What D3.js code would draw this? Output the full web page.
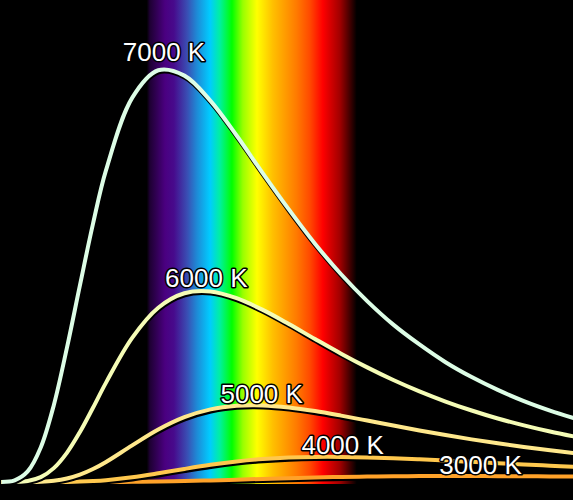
<!DOCTYPE html>
<html><head><meta charset="utf-8">
<script src="https://cdn.jsdelivr.net/npm/d3@7"></script>
<style>html,body{margin:0;padding:0;background:#000;overflow:hidden}</style>
</head><body>
<svg id="chart" width="573" height="500"></svg>
<script>
// wavelength samples (nm)
const wavelengths = [100,125,150,175,200,225,250,275,300,350,400,450,500,550,600,650,700,750,800,850,900,950,1000,1050,1100,1150,1200];
// relative spectral radiance (% of 7000 K peak)
const t7000 = [0.02,0.41,2.56,8.36,18.6,32.4,47.6,62.5,75.5,93.0,99.7,98.4,92.3,83.9,74.8,66.0,57.7,50.3,43.8,38.1,33.3,29.0,25.4,22.3,19.6,17.3,15.3];
const t6000 = [0,0.03,0.26,1.18,3.36,7.06,12.1,17.97,24.07,34.9,42.2,45.7,46.15,44.5,41.67,38.25,34.62,31.07,27.75,24.69,21.94,19.49,17.31,15.38,13.70,12.21,10.91];
const t5000 = [0,0,0.01,0.08,0.31,0.84,1.78,3.14,4.86,8.86,12.7,15.69,17.59,18.46,18.55,18.04,17.17,16.07,14.88,13.67,12.49,11.37,10.32,9.36,8.48,7.68,6.96];
const t4000 = [0,0,0,0,0.01,0.03,0.10,0.23,0.44,1.13,2.10,3.17,4.16,4.97,5.56,5.92,6.08,6.08,5.96,5.75,5.49,5.19,4.88,4.56,4.25,3.94,3.65];
const t3000 = [0,0,0,0,0,0,0,0,0.01,0.04,0.11,0.22,0.38,0.56,0.75,0.93,1.09,1.22,1.32,1.39,1.43,1.45,1.44,1.42,1.39,1.35,1.30];
const seriesNames = ["3000 K","4000 K","5000 K","6000 K","7000 K"];
const seriesColors = ["#ffa229","#ffc84e","#ffe88c","#f5fcb6","#ddfde6"];
// label anchor points in data units (wavelength, value)
const labelWl  = [1017, 753, 598, 492, 411];
const labelVal = [1.9, 6.8, 19.2, 47.2, 102];
// visible spectrum gradient stops (nm, colour)
const specWl = [378,384,413,430,455,474,499,518,541,562,589,619,665,690,715,748,780];
const specColors = ["#000000","#1e0033","#4a0080","#470a8c","#3a4db3","#1e8ad6","#00ccff","#00f0a0","#00ff00","#99ff00","#ffff00","#ffc000","#ff7a00","#ff4a00","#ff0000","#a00000","#000000"];

const W = 573, H = 500;
const svg = d3.select("#chart");
const x = d3.scaleLinear().domain([97, 1194]).range([0, W]);
const y = d3.scaleLinear().domain([0, 100]).range([482, 69]);

svg.append("rect").attr("width", W).attr("height", H).attr("fill", "#000");

const defs = svg.append("defs");
const grad = defs.append("linearGradient").attr("id", "spec")
  .attr("gradientUnits", "userSpaceOnUse")
  .attr("x1", x(specWl[0])).attr("x2", x(specWl[specWl.length-1])).attr("y1", 0).attr("y2", 0);
const span = specWl[specWl.length-1] - specWl[0];
specWl.forEach((w, i) => grad.append("stop")
  .attr("offset", (w - specWl[0]) / span).attr("stop-color", specColors[i]));

svg.append("rect")
  .attr("x", x(specWl[0])).attr("y", 0)
  .attr("width", x(specWl[specWl.length-1]) - x(specWl[0]))
  .attr("height", y(0) + 2)
  .attr("fill", "url(#spec)");

const series = [t3000, t4000, t5000, t6000, t7000];
const line = d3.line()
  .x((d, i) => x(wavelengths[i]))
  .y(d => y(d))
  .curve(d3.curveCatmullRom.alpha(0.5));

const g = svg.append("g");
series.forEach((vals, k) => {
  g.append("path").datum(vals).attr("d", line)
    .attr("fill", "none").attr("stroke", "#000").attr("stroke-width", 4.2)
    .attr("transform", "translate(0.5,2)");
  g.append("path").datum(vals).attr("d", line)
    .attr("fill", "none").attr("stroke", seriesColors[k]).attr("stroke-width", 4);
});

svg.append("g").selectAll("text").data(seriesNames).join("text")
  .attr("x", (d, i) => x(labelWl[i]))
  .attr("y", (d, i) => y(labelVal[i]))
  .attr("text-anchor", "middle")
  .attr("font-family", "'Liberation Sans', Arial, sans-serif")
  .attr("font-size", 26)
  .attr("fill", "#fff")
  .attr("stroke", "#000")
  .attr("stroke-width", 3)
  .attr("stroke-linejoin", "round")
  .attr("paint-order", "stroke")
  .text(d => d);
</script>
</body></html>
